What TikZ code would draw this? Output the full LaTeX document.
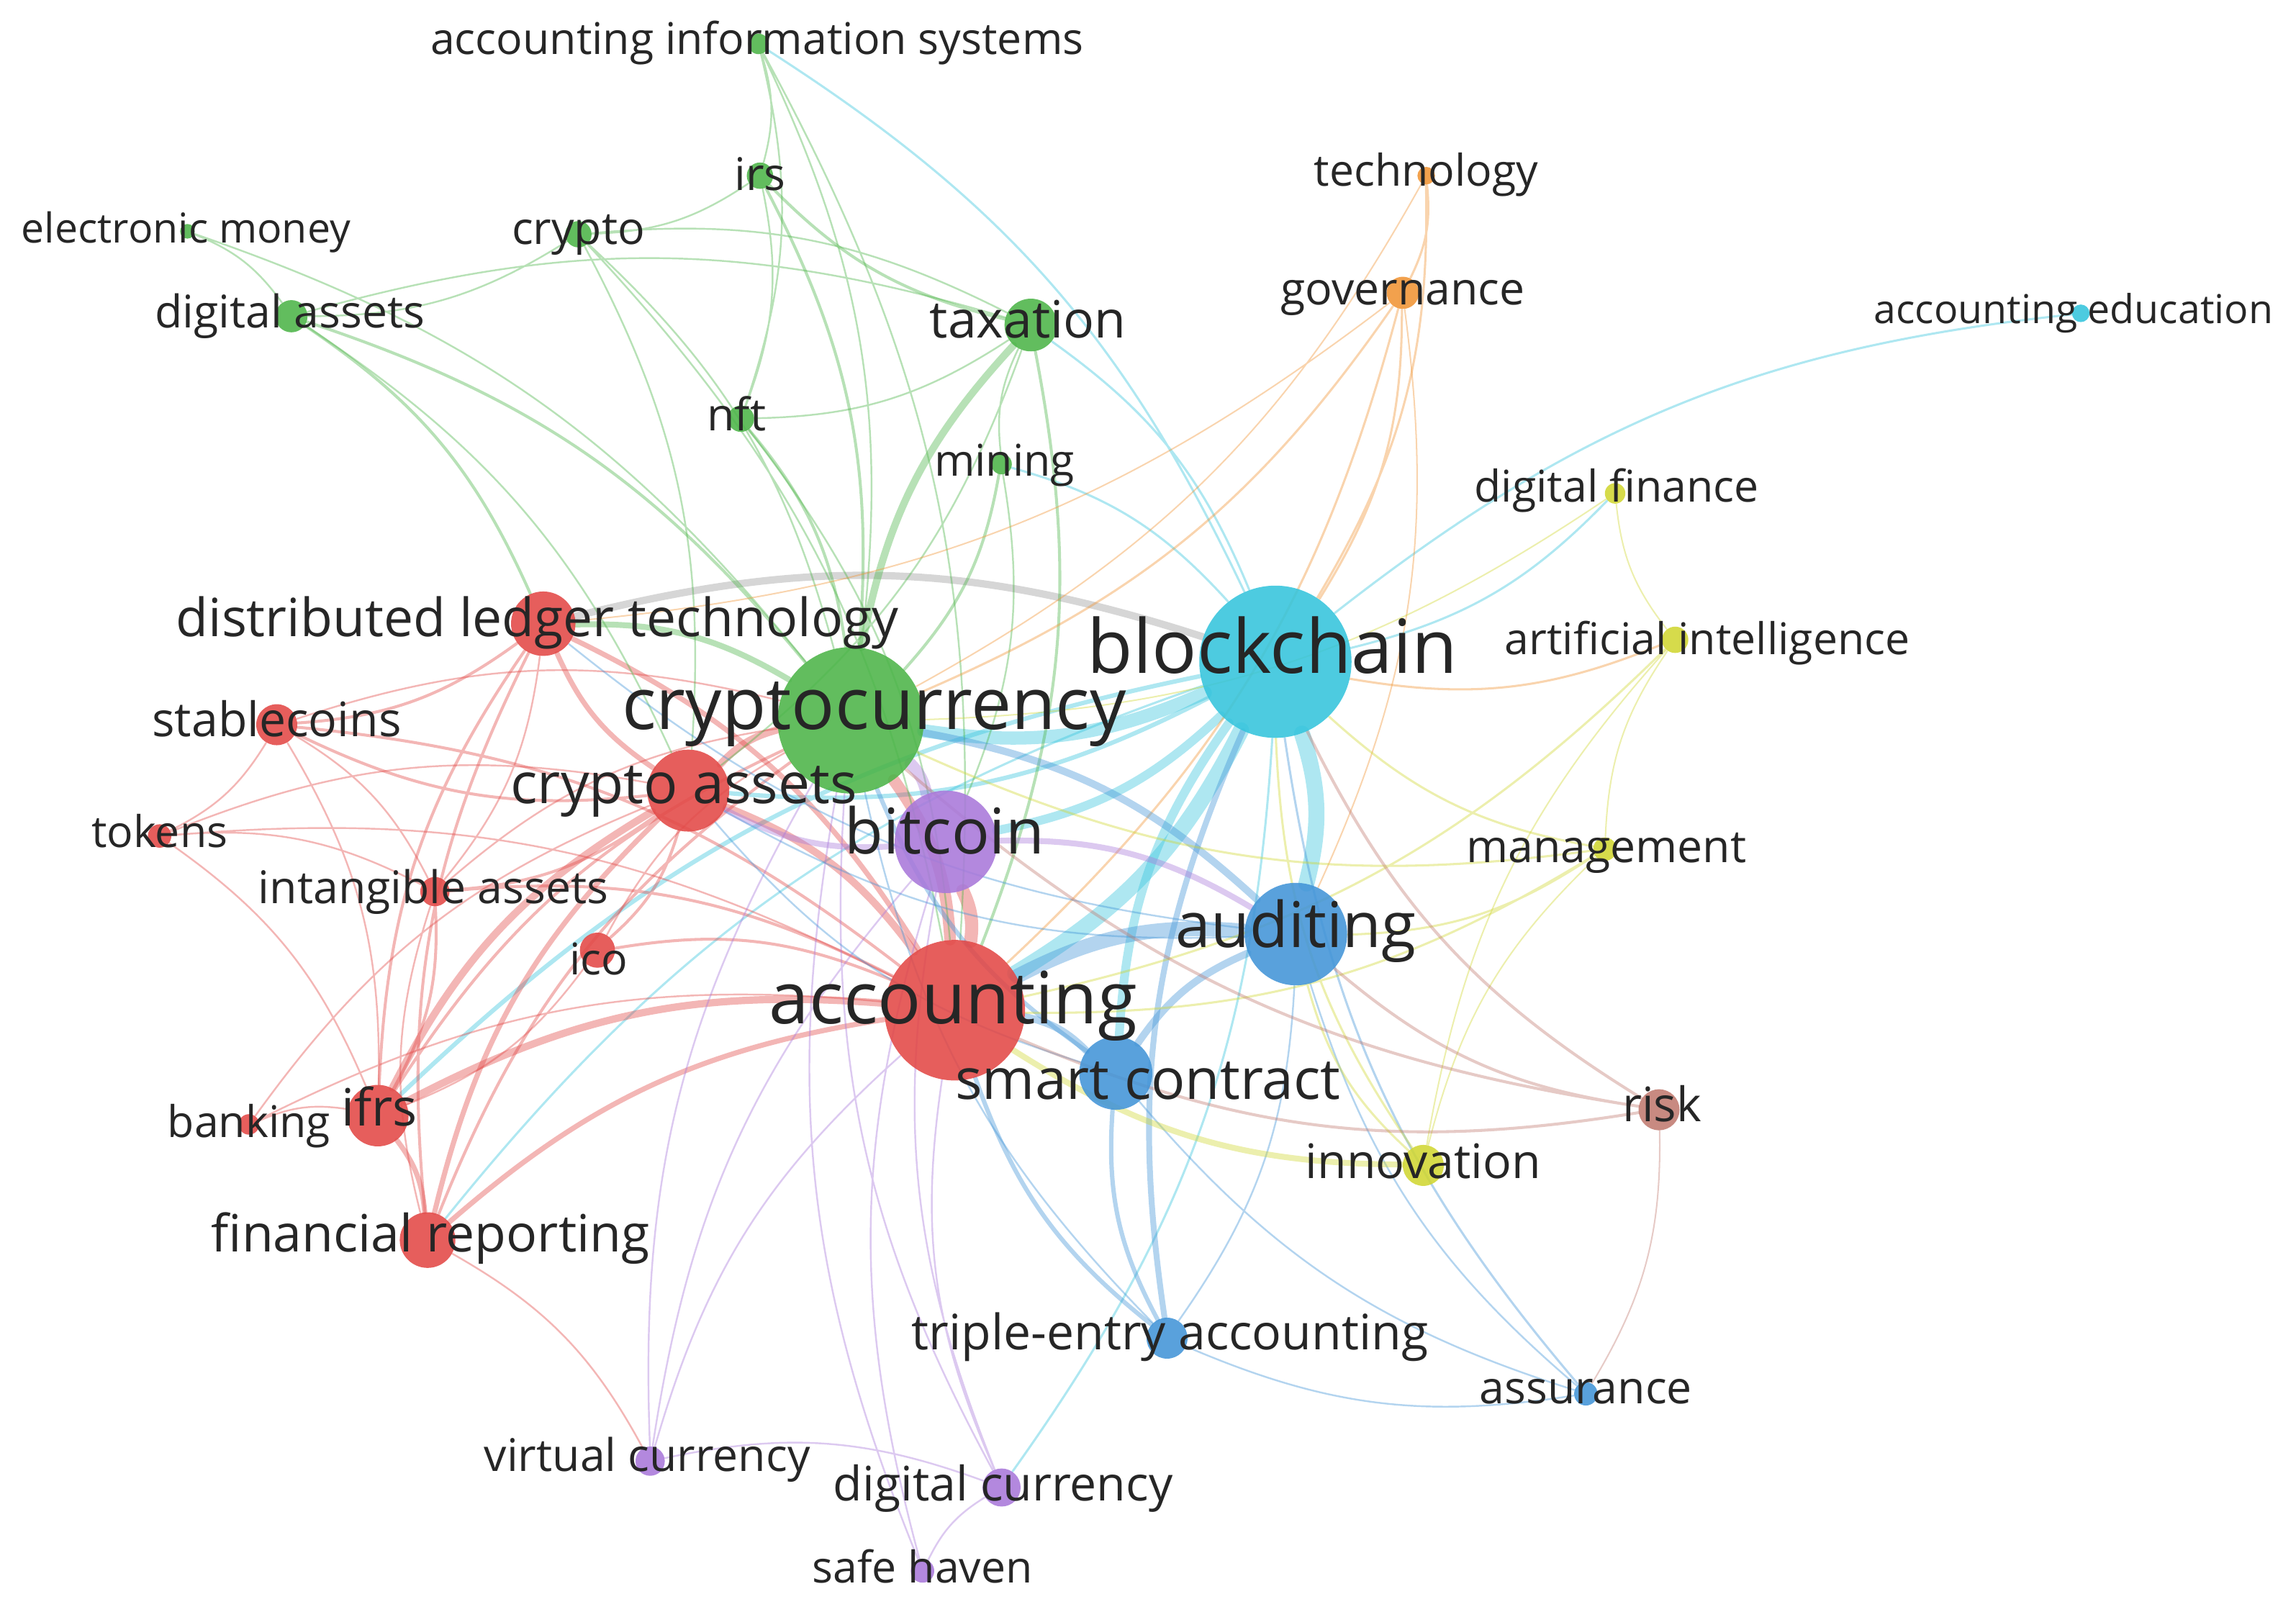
\documentclass[tikz,border=0pt]{standalone}
\usepackage{fontspec}
\setmainfont{Open Sans}
\usetikzlibrary{backgrounds}

\definecolor{cred}{RGB}{226,72,70}
\definecolor{cgreen}{RGB}{76,180,72}
\definecolor{cblue}{RGB}{66,148,215}
\definecolor{ccyan}{RGB}{52,196,220}
\definecolor{cpurple}{RGB}{168,120,218}
\definecolor{cyellow}{RGB}{208,214,50}
\definecolor{corange}{RGB}{240,148,52}
\definecolor{cbrown}{RGB}{192,122,112}

\tikzset{
  kw/.style={inner sep=0pt, text=black!85, text height=1.02em, text depth=0pt, font=\fontsize{#1}{#1}\selectfont},
  dot/.style={circle, inner sep=0pt, minimum size=#1*0.4mm, opacity=.88},
  lk/.style={draw=#1, opacity=.4, bend left=16, line cap=round},
  wd/.style={line width=#1*0.2mm},
}

\begin{document}
\begin{tikzpicture}[x=0.02cm, y=-0.02cm]
\useasboundingbox (0,0) rectangle (1568,1101);

% keyword circles
\node[dot=52, fill=ccyan] (bc) at (871,452) {};
\node[dot=50, fill=cgreen] (cc) at (581,492) {};
\node[dot=48, fill=cred] (acc) at (652,690) {};
\node[dot=35, fill=cblue] (aud) at (885,638) {};
\node[dot=35, fill=cpurple] (btc) at (646,575) {};
\node[dot=25, fill=cblue] (sc) at (762,733) {};
\node[dot=28, fill=cred] (ca) at (470,540) {};
\node[dot=22, fill=cred] (dlt) at (371,426) {};
\node[dot=18, fill=cgreen] (tax) at (704,222) {};
\node[dot=21, fill=cred] (ifrs) at (258,762) {};
\node[dot=19, fill=cred] (fr) at (292,847) {};
\node[dot=14, fill=cred] (sta) at (189,495) {};
\node[dot=14, fill=cyellow] (inn) at (972,796) {};
\node[dot=14, fill=cbrown] (risk) at (1133,758) {};
\node[dot=14, fill=cblue] (tea) at (797,914) {};
\node[dot=13, fill=cpurple] (dcur) at (684,1016) {};
\node[dot=12, fill=cred] (ico) at (408,649) {};
\node[dot=11, fill=cgreen] (da) at (199,216) {};
\node[dot=10, fill=cpurple] (vc) at (444,998) {};
\node[dot=10, fill=cred] (ia) at (297,609) {};
\node[dot=11, fill=corange] (gov) at (958,200) {};
\node[dot=9, fill=cgreen] (irs) at (519,120) {};
\node[dot=9, fill=cgreen] (cry) at (395,160) {};
\node[dot=9, fill=cgreen] (nft) at (506,286) {};
\node[dot=8, fill=cyellow] (man) at (1096,580) {};
\node[dot=9, fill=cyellow] (ai) at (1144,437) {};
\node[dot=8, fill=cblue] (ass) at (1083,952) {};
\node[dot=8, fill=cpurple] (sh) at (630,1073) {};
\node[dot=8, fill=cred] (tok) at (109,571) {};
\node[dot=7, fill=cgreen] (min) at (684,317) {};
\node[dot=7, fill=cyellow] (df) at (1103,337) {};
\node[dot=7, fill=cred] (bank) at (170,768) {};
\node[dot=7, fill=cgreen] (ais) at (518,30) {};
\node[dot=6, fill=corange] (tech) at (974,120) {};
\node[dot=6, fill=ccyan] (aed) at (1421,214) {};
\node[dot=5, fill=cgreen] (em) at (128,158) {};

% links
\begin{scope}[on background layer]
\draw[lk=ccyan, wd=11] (bc) to (acc) (bc) to (aud);
\draw[lk=ccyan, wd=9] (bc) to (cc);
\draw[lk=ccyan, wd=6] (bc) to (btc) (sc) to (bc);
\draw[lk=ccyan, wd=3] (bc) to (ca) (ifrs) to (bc);
\draw[lk=ccyan, wd=1.5] (bc) to (aed) (ais) to (bc) (tax) to (bc) (df) to (bc) (min) to (bc) (bc) to (dcur) (fr) to (bc);
\draw[lk=black!40, wd=5] (dlt) to (bc);
\draw[lk=cblue, wd=4] (tea) to (bc);
\draw[lk=cblue, wd=1.5] (ass) to (bc);
\draw[lk=cred, wd=9] (btc) to (acc);
\draw[lk=cred, wd=8] (cc) to (acc);
\draw[lk=cred, wd=5] (ca) to (acc) (ifrs) to (acc) (ifrs) to (ca) (ca) to (cc);
\draw[lk=cred, wd=3.5] (fr) to (acc) (dlt) to (acc) (ca) to (dlt) (fr) to (ca) (ifrs) to (fr);
\draw[lk=cred, wd=2] (ico) to (acc) (ia) to (acc) (sta) to (acc) (ca) to (sta) (ca) to (ia) (ca) to (ico) (dlt) to (sta) (ifrs) to (dlt) (fr) to (dlt) (ia) to (ifrs) (ifrs) to (cc) (fr) to (cc);
\draw[lk=cred, wd=1.2] (tok) to (acc) (bank) to (acc) (tok) to (ca) (bank) to (ca) (dlt) to (ia) (sta) to (tok) (sta) to (ifrs) (sta) to (cc) (sta) to (ia) (tok) to (ia) (tok) to (ifrs) (bank) to (ifrs) (fr) to (ia) (fr) to (vc) (ico) to (cc) (ico) to (ifrs) (ia) to (cc);
\draw[lk=cgreen, wd=5] (cc) to (tax);
\draw[lk=cgreen, wd=4] (dlt) to (cc);
\draw[lk=cgreen, wd=2] (irs) to (cc) (da) to (cc) (nft) to (cc) (min) to (cc) (tax) to (irs) (tax) to (acc) (da) to (dlt);
\draw[lk=cgreen, wd=1.2] (ais) to (cc) (cry) to (cc) (em) to (cc) (tax) to (nft) (cry) to (tax) (min) to (tax) (da) to (tax) (tax) to (ca) (ais) to (irs) (irs) to (cry) (irs) to (nft) (ais) to (nft) (ais) to (acc) (cry) to (da) (cry) to (ca) (cry) to (acc) (em) to (da) (da) to (ca) (nft) to (acc) (min) to (btc);
\draw[lk=corange, wd=1.5] (gov) to (cc) (tech) to (gov) (gov) to (acc) (gov) to (bc) (tech) to (bc) (ai) to (bc);
\draw[lk=corange, wd=1] (gov) to (aud) (tech) to (cc) (gov) to (dlt);
\draw[lk=cpurple, wd=8] (cc) to (btc);
\draw[lk=cpurple, wd=4] (btc) to (aud) (btc) to (ca);
\draw[lk=cpurple, wd=1.2] (vc) to (btc) (dcur) to (btc) (sh) to (btc) (vc) to (acc) (vc) to (cc) (dcur) to (acc) (dcur) to (cc) (sh) to (dcur) (sh) to (cc) (vc) to (dcur);
\draw[lk=cblue, wd=10] (acc) to (aud);
\draw[lk=cblue, wd=5] (sc) to (aud) (acc) to (sc) (cc) to (aud);
\draw[lk=cblue, wd=3] (tea) to (sc) (sc) to (cc) (tea) to (acc);
\draw[lk=cblue, wd=1.2] (aud) to (tea) (ass) to (aud) (ass) to (sc) (ass) to (tea) (aud) to (ca) (aud) to (dlt) (sc) to (ca) (tea) to (cc);
\draw[lk=cyellow, wd=4] (inn) to (acc);
\draw[lk=cyellow, wd=1.5] (inn) to (aud) (inn) to (bc) (man) to (aud) (man) to (acc) (man) to (bc) (ai) to (acc) (man) to (cc);
\draw[lk=cyellow, wd=1] (inn) to (man) (inn) to (ai) (ai) to (df) (df) to (cc) (man) to (ai);
\draw[lk=cbrown, wd=2] (risk) to (cc) (risk) to (aud) (risk) to (acc) (risk) to (bc);
\draw[lk=cbrown, wd=1] (risk) to (ass);
\end{scope}

% keyword labels
\node[kw=29] (bc-t) at (869,451) {blockchain};
\node[kw=28] (cc-t) at (597,489) {cryptocurrency};
\node[kw=28] (acc-t) at (651,690) {accounting};
\node[kw=24.5] (aud-t) at (885,638) {auditing};
\node[kw=24.5] (btc-t) at (645,574) {bitcoin};
\node[kw=22] (sc-t) at (784,742) {smart contract};
\node[kw=22] (ca-t) at (467,540) {crypto assets};
\node[kw=20.5] (dlt-t) at (367,426) {distributed ledger technology};
\node[kw=20] (tax-t) at (702,222) {taxation};
\node[kw=20] (ifrs-t) at (259,760) {ifrs};
\node[kw=20] (fr-t) at (294,846) {financial reporting};
\node[kw=18.5] (sta-t) at (189,494) {stablecoins};
\node[kw=18.5] (inn-t) at (972,796) {innovation};
\node[kw=18.5] (risk-t) at (1135,757) {risk};
\node[kw=19] (tea-t) at (799,913) {triple-entry accounting};
\node[kw=18.5] (dcur-t) at (685,1016) {digital currency};
\node[kw=17.5] (vc-t) at (442,996) {virtual currency};
\node[kw=17] (ico-t) at (409,657) {ico};
\node[kw=17.5] (ia-t) at (296,608) {intangible assets};
\node[kw=17.5] (da-t) at (198,215) {digital assets};
\node[kw=17.5] (gov-t) at (958,199) {governance};
\node[kw=17.5] (irs-t) at (519,121) {irs};
\node[kw=17.5] (cry-t) at (395,158) {crypto};
\node[kw=17.5] (nft-t) at (503,285) {nft};
\node[kw=17.5] (man-t) at (1097,580) {management};
\node[kw=17] (ai-t) at (1166,438) {artificial intelligence};
\node[kw=17.5] (ass-t) at (1083,950) {assurance};
\node[kw=17] (sh-t) at (630,1072) {safe haven};
\node[kw=17] (tok-t) at (109,570) {tokens};
\node[kw=17] (min-t) at (686,316) {mining};
\node[kw=17] (df-t) at (1104,334) {digital finance};
\node[kw=17] (bank-t) at (170,768) {banking};
\node[kw=17] (ais-t) at (517,28) {accounting information systems};
\node[kw=17] (tech-t) at (974,118) {technology};
\node[kw=15.5] (aed-t) at (1416,212) {accounting education};
\node[kw=16] (em-t) at (127,157) {electronic money};

\end{tikzpicture}
\end{document}
